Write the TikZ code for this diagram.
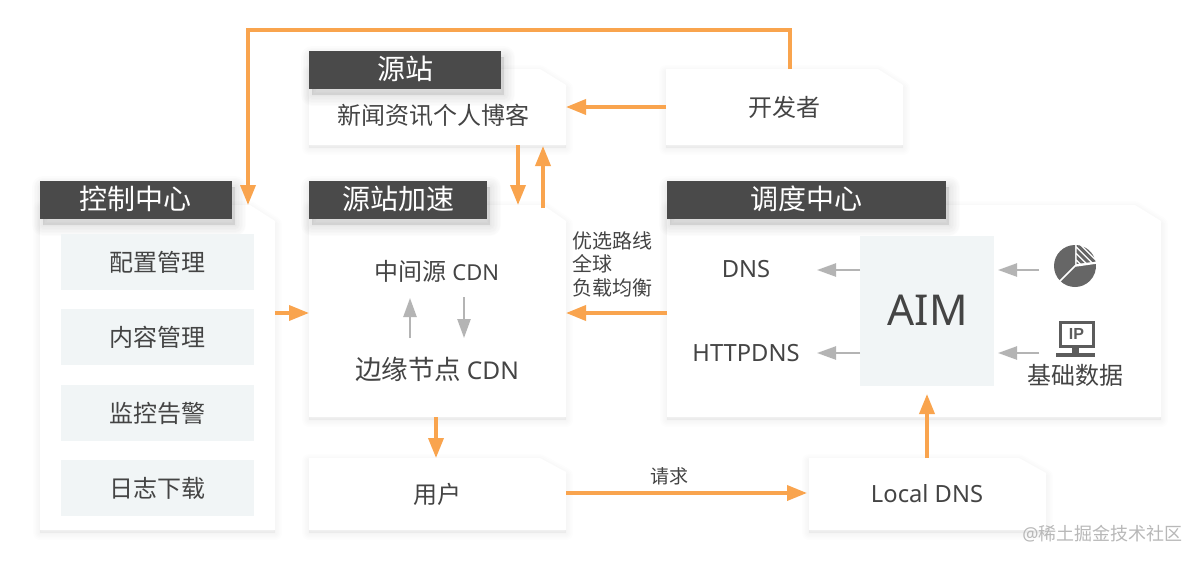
\documentclass[tikz,border=0pt]{standalone}
\usepackage{fontspec}
\setmainfont{Noto Sans CJK SC}
\newfontfamily\latfont{Noto Sans}
\newfontfamily\ipfont{Liberation Sans}
\usetikzlibrary{arrows.meta}
\definecolor{orangeline}{HTML}{F9A44E}
\definecolor{greyline}{HTML}{B4B4B4}
\definecolor{darklabel}{HTML}{4A4A4A}
\definecolor{textgrey}{HTML}{444444}
\definecolor{softbox}{HTML}{F1F5F6}
\definecolor{iconfill}{HTML}{666666}
\newcommand{\fs}[1]{\fontsize{#1}{#1}\selectfont}
\tikzset{
 orangearrow/.style={draw=orangeline,line width=3.6pt,-{Triangle[length=20pt,width=15pt,fill=orangeline]}},
 greyarrow/.style={draw=greyline,line width=2.4pt,-{Triangle[length=19pt,width=13pt,fill=greyline]}},
 txt/.style={text=textgrey,inner sep=0pt,font=\fs{24}},
 smalltxt/.style={txt,font=\fs{19}},
 lat/.style={txt,font=\fs{23.7}\latfont},
 labeltxt/.style={text=white,inner sep=0pt,font=\fs{28}},
 softsq/.style={fill=softbox,draw=none,inner sep=0pt},
 invisible/.style={inner sep=0pt,outer sep=0pt},
}
% name, x1, y1, x2, y2, corner x, corner y
\newcommand{\panel}[7]{%
 \foreach \r in {14,11,8,5,2}{%
  \draw[black,fill=black,opacity=.009,line width=\r pt,line join=round]
   (#2,#3+3) -- (#6,#3+3) -- (#4,#7+3) -- (#4,#5+3) -- (#2,#5+3) -- cycle;}
 \fill[white] (#2,#3) -- (#6,#3) -- (#4,#7) -- (#4,#5) -- (#2,#5) -- cycle;
 \pgfmathsetmacro{\pw}{#4-#2}\pgfmathsetmacro{\ph}{#5-#3}
 \node[invisible,minimum width=\pw pt,minimum height=\ph pt] (#1) at ({(#2+#4)/2},{(#3+#5)/2}) {};%
}
% name, x1, y1, x2, y2, text, text x
\newcommand{\tab}[7]{%
 \foreach \r in {22,19,16,13,10,7,4,1}{%
  \draw[black,fill=black,opacity=.012,line width=\r pt,line join=round]
   (#2+3,#3+6) rectangle (#4+3,#5+6);}
 \pgfmathsetmacro{\pw}{#4-#2}\pgfmathsetmacro{\ph}{#5-#3}
 \node[invisible,fill=darklabel,minimum width=\pw pt,minimum height=\ph pt] (#1) at ({(#2+#4)/2},{(#3+#5)/2}) {};
 \node[labeltxt] (#1t) at (#7,{(#3+#5)/2-1}) {#6};%
}
\begin{document}
\begin{tikzpicture}[x=1pt,y=-1pt]
\useasboundingbox (0,0) rectangle (1200,562);
\fill[white] (0,0) rectangle (1200,562);
% panels
\panel{src}{309}{69}{566}{145}{540}{85}
\panel{dev}{666}{69}{903}{145}{878}{85}
\panel{ctrl}{40}{205}{275}{530}{250}{221}
\panel{accel}{309}{205}{566}{417}{543}{221}
\panel{disp}{667}{205}{1161}{417}{1135}{221}
\panel{user}{309}{458}{566}{530}{540}{472}
\panel{ldns}{809}{458}{1046}{530}{1019}{473}
% tabs
\tab{tsrc}{309}{51}{501}{89}{源站}{405}
\tab{tctrl}{40}{181}{232}{219}{控制中心}{135}
\tab{taccel}{309}{181}{487}{219}{源站加速}{398}
\tab{tdisp}{667}{181}{946}{219}{调度中心}{806}
% inner boxes
\node[softsq,minimum width=193pt,minimum height=56pt] (b1) at (157.5,262) {};
\node[softsq,minimum width=193pt,minimum height=56pt] (b2) at (157.5,337) {};
\node[softsq,minimum width=193pt,minimum height=56pt] (b3) at (157.5,413) {};
\node[softsq,minimum width=193pt,minimum height=56pt] (b4) at (157.5,488) {};
\node[softsq,minimum width=134pt,minimum height=150pt] (aim) at (927,311) {};
% text
\node[txt] (t1) at (157.5,262) {配置管理};
\node[txt] (t2) at (157.5,337) {内容管理};
\node[txt] (t3) at (157.5,413) {监控告警};
\node[txt] (t4) at (157.5,488) {日志下载};
\node[txt] (tsrcb) at (433.5,115) {新闻资讯个人博客};
\node[txt] (tdev) at (784.5,107) {开发者};
\node[txt] (tmid) at (437,271) {中间源 {\fs{22}\latfont CDN}};
\node[txt,font=\fs{26.5}] (tedge) at (437,369) {边缘节点 {\fs{24.5}\latfont CDN}};
\node[txt] (tuser) at (437,494) {用户};
\node[lat] (tl) at (927,494) {Local DNS};
\node[lat] (tdns) at (746,269.5) {DNS};
\node[lat] (thttp) at (746,353.5) {HTTPDNS};
\node[txt,font=\fs{42.5}\latfont] (taim) at (927.5,310) {AIM};
\node[txt] (tbase) at (1075,375) {基础数据};
\node[smalltxt,align=left,anchor=north west,font=\fs{20}] (troute) at (572.5,231) {优选路线\\[3.5pt]全球\\[3.5pt]负载均衡};
\node[smalltxt] (treq) at (669,476) {请求};
\node[text=black!28,inner sep=0pt,font=\fs{18}] (wm) at (1102.5,534) {{\latfont @}稀土掘金技术社区};
% pie icon
\begin{scope}[shift={(1075,266)},x=1pt,y=1pt]
 \fill[iconfill] (0,0) -- (90:21) arc[start angle=90,end angle=225,radius=21] -- cycle;
 \fill[iconfill] (0,0) -- (225:21) arc[start angle=225,end angle=368,radius=21] -- cycle;
 \begin{scope}
  \clip (1.5,2) -- (1.5,21) arc[start angle=86,end angle=12,radius=21] -- cycle;
  \foreach \d in {-8,-1.5,5,11.5,18,24.5,31}{\draw[iconfill,line width=3pt] (\d-12,24) -- (\d+16,-4);}
 \end{scope}
 \draw[white,line width=1.6pt] (225:22) -- (0,0) -- (8:22);
\end{scope}
% monitor icon
\draw[iconfill!90!black,line width=3pt] (1060,322.5) rectangle (1093,346);
\node[inner sep=0pt,text=iconfill!90!black,font=\fs{16}\ipfont\bfseries] (tip) at (1076.5,334) {IP};
\fill[iconfill!90!black] (1072,347) rectangle (1079,353);
\fill[iconfill!90!black] (1056,353) rectangle (1095,357);
% connector ends
\coordinate (d1) at (790,69);
\coordinate (d2) at (790,30);
\coordinate (d3) at (248,30);
\coordinate (d4) at (248,205);
\coordinate (s1) at (518,145);
\coordinate (a1) at (518,205);
\coordinate (a2) at (543,208);
\coordinate (s2) at (543,146);
\coordinate (c1) at (275,313);
\coordinate (a3) at (309,313);
\coordinate (e1) at (667,313);
\coordinate (a4) at (566,313);
\coordinate (a5) at (436,417);
\coordinate (u1) at (436,458);
\coordinate (u2) at (566,493);
\coordinate (l1) at (807,493);
\coordinate (l2) at (927,458);
\coordinate (am) at (927,394);
\coordinate (g1) at (860,270);
\coordinate (g2) at (817,270);
\coordinate (g3) at (860,353);
\coordinate (g4) at (817,353);
\coordinate (g5) at (1039,270);
\coordinate (g6) at (998,270);
\coordinate (g7) at (1039,353);
\coordinate (g8) at (998,353);
\coordinate (g9) at (410,338);
\coordinate (g10) at (410,298);
\coordinate (g11) at (464,297);
\coordinate (g12) at (464,338);
% connectors
\draw[orangearrow] (d1) -- (d2) -- (d3) -- (d4);
\draw[orangearrow] (dev.west) -- (src.east);
\draw[orangearrow] (s1) -- (a1);
\draw[orangearrow] (a2) -- (s2);
\draw[orangearrow] (c1) -- (a3);
\draw[orangearrow] (e1) -- (a4);
\draw[orangearrow] (a5) -- (u1);
\draw[orangearrow] (u2) -- (l1);
\draw[orangearrow] (l2) -- (am);
\draw[greyarrow] (g1) -- (g2);
\draw[greyarrow] (g3) -- (g4);
\draw[greyarrow] (g5) -- (g6);
\draw[greyarrow] (g7) -- (g8);
\draw[greyarrow] (g9) -- (g10);
\draw[greyarrow] (g11) -- (g12);
\end{tikzpicture}
\end{document}
